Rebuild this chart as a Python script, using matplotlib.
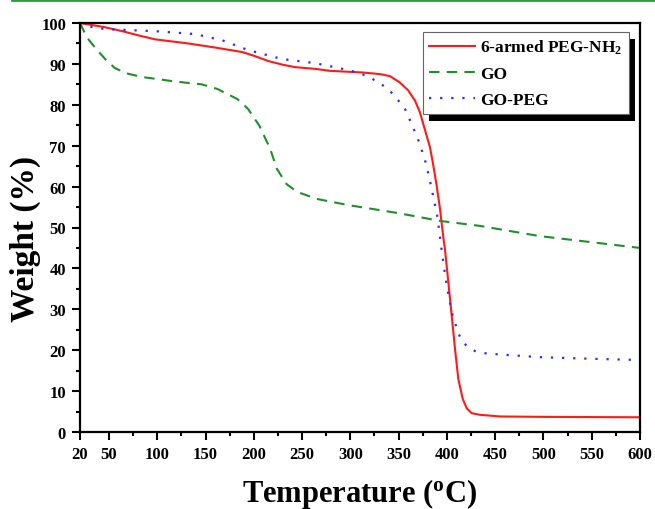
import numpy as np
import matplotlib
matplotlib.use('Agg')
import matplotlib.pyplot as plt
from matplotlib.patches import Rectangle
from matplotlib.lines import Line2D
from matplotlib.ticker import MultipleLocator, FixedLocator

# TGA curves
peg_T = [20, 25, 45, 64, 80, 98, 115, 132, 160, 188, 200, 215, 230, 243, 263, 279, 313,
         331, 341, 351, 360, 367, 372, 377, 382.5, 386, 389.4, 392.9, 396.3, 398, 401.5,
         405, 408.4, 411.8, 416.4, 420.5, 425.7, 434.3, 455, 500, 600]
peg_W = [100, 99.8, 99.0, 98.0, 97.0, 96.0, 95.5, 95.0, 94.0, 92.9, 92.0, 90.7, 89.8,
         89.2, 88.8, 88.3, 87.9, 87.5, 87.0, 85.5, 83.5, 81.0, 78.2, 74.1, 69.6, 65.1,
         60.2, 54.5, 47.5, 44.7, 36.6, 28.4, 20.3, 13.0, 8.1, 5.8, 4.6, 4.2, 3.8, 3.7, 3.6]

go_T = [20, 23, 27, 35.5, 46, 56, 68, 84, 100, 115, 130, 146, 162, 173, 183, 194, 206,
        217, 224, 234, 245, 265, 282, 300, 350, 393, 434, 496, 550, 600]
go_W = [100, 98.5, 96.5, 94.0, 91.2, 89.0, 87.7, 86.8, 86.3, 85.8, 85.4, 85.0, 83.9,
        82.6, 81.4, 79.0, 74.8, 69.2, 64.3, 60.6, 58.7, 57.0, 56.2, 55.4, 53.5, 51.6,
        50.4, 47.9, 46.4, 45.0]

gopeg_T = [20, 25, 46, 98, 139, 167, 194, 229, 263, 284, 301, 317, 332, 344.5, 356.6,
           365, 372, 378, 382, 386, 390, 394, 396.3, 399.8, 402.5, 405, 408.4, 410.8,
           414.6, 421, 429, 437.7, 446.4, 496, 550, 600]
gopeg_W = [100, 99.3, 98.5, 98.0, 97.3, 95.8, 93.4, 91.2, 90.2, 89.2, 88.3, 87.1, 85.1,
           82.6, 79.0, 74.5, 70.4, 65.9, 61.9, 57.4, 52.9, 45.5, 41.4, 35.8, 32.5, 29.3,
           26.8, 24.8, 22.7, 20.9, 19.8, 19.3, 19.1, 18.3, 17.9, 17.6]

x_ticks = [20, 50, 100, 150, 200, 250, 300, 350, 400, 450, 500, 550, 600]

plt.rcParams['font.family'] = ['Liberation Serif', 'DejaVu Serif']
plt.rcParams['font.weight'] = 'bold'
plt.rcParams['mathtext.fontset'] = 'custom'
plt.rcParams['mathtext.rm'] = 'Liberation Serif:bold'
plt.rcParams['mathtext.it'] = 'Liberation Serif:bold'
plt.rcParams['mathtext.bf'] = 'Liberation Serif:bold'

fig = plt.figure(figsize=(6.55, 5.10), dpi=100)
ax = fig.add_axes([80 / 655, 77 / 510, 560 / 655, 409 / 510])

ax.plot(peg_T, peg_W, color='#ff1a1a', lw=1.5, label=r'6-armed PEG-NH$_2$')
ax.plot(go_T, go_W, color='#1f8f2a', lw=1.5, ls=(0, (5, 3.5)), label='GO')
ax.plot(gopeg_T, gopeg_W, color='#2b2bff', lw=1.6, ls=(0, (1, 4)), label='GO-PEG')

ax.set_xlim(20, 600)
ax.set_ylim(0, 100)
ax.xaxis.set_major_locator(FixedLocator(x_ticks))
ax.xaxis.set_minor_locator(FixedLocator(list(range(75, 600, 50))))
ax.yaxis.set_major_locator(MultipleLocator(10))
ax.yaxis.set_minor_locator(MultipleLocator(5))
ax.tick_params(which='both', direction='out', width=1.5, top=False, right=False,
               labelsize=12)
ax.tick_params(which='major', length=6, pad=4)
ax.tick_params(which='minor', length=3)
for lab in ax.get_xticklabels() + ax.get_yticklabels():
    lab.set_fontweight('bold')
for sp in ax.spines.values():
    sp.set_linewidth(1.6)

ax.set_xlabel(r'Temperature ($^{\rm o}$C)', fontsize=22, fontweight='bold', labelpad=10)
ax.set_ylabel('Weight (%)', fontsize=24, fontweight='bold')
ax.yaxis.set_label_coords(-0.07, 0.475)

leg = ax.legend(loc='upper right', bbox_to_anchor=(0.9795, 0.978), fontsize=12.5,
                frameon=True, fancybox=False, framealpha=1, facecolor='white',
                edgecolor='#666666', handlelength=2.65,
                borderpad=0.35, labelspacing=0.55, handletextpad=0.3, borderaxespad=0)
leg.get_frame().set_linewidth(0.8)
leg.set_zorder(6)
for t in leg.get_texts():
    t.set_fontweight('bold')

# solid black drop shadow under the legend frame
fig.canvas.draw()
bb = leg.get_frame().get_window_extent()
W, H = fig.bbox.width, fig.bbox.height
shadow = Rectangle(((bb.x0 + 6) / W, (bb.y0 - 7) / H), bb.width / W, bb.height / H,
                   transform=fig.transFigure, facecolor='black', edgecolor='none',
                   zorder=5, clip_on=False)
ax.add_patch(shadow)

# thin green rule across the top of the image
fig.add_artist(Line2D([12 / 655, 1.0], [1 - 1 / 510, 1 - 1 / 510],
                      transform=fig.transFigure, color='#2e9b45', lw=2))

fig.savefig('out.png', dpi=100)
